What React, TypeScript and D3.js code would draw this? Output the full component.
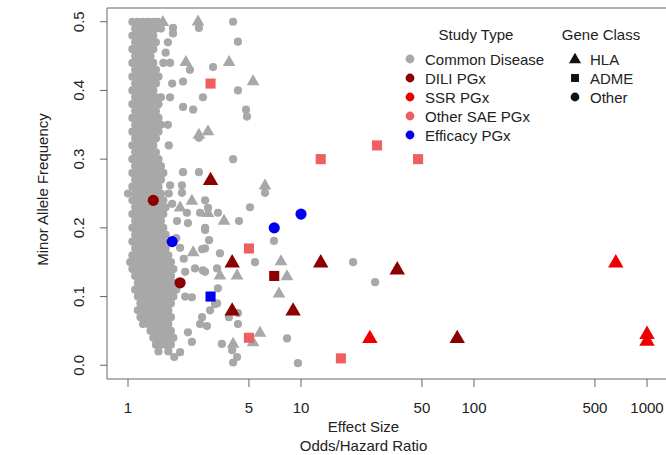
import React from 'react';
import * as d3 from 'd3';

// dense block of common disease hits, one row per allele frequency
const clusterRows: [number, number[]][] = [
  [0.50, [1.06, 1.14, 1.22, 1.31, 1.40, 1.48]],
  [0.49, [1.10, 1.18, 1.26, 1.35, 1.45, 1.55]],
  [0.48, [1.06, 1.14, 1.22, 1.31, 1.40]],
  [0.47, [1.10, 1.18, 1.26, 1.35, 1.45]],
  [0.46, [1.06, 1.14, 1.22, 1.31, 1.40]],
  [0.45, [1.10, 1.18, 1.26, 1.35]],
  [0.44, [1.06, 1.14, 1.22, 1.31, 1.40, 1.60]],
  [0.43, [1.10, 1.18, 1.26, 1.35, 1.45]],
  [0.42, [1.06, 1.14, 1.22, 1.31, 1.40, 1.50]],
  [0.41, [1.10, 1.18, 1.26, 1.35, 1.45]],
  [0.40, [1.06, 1.14, 1.22, 1.31, 1.40]],
  [0.39, [1.10, 1.18, 1.26, 1.35, 1.45, 1.55]],
  [0.38, [1.06, 1.14, 1.22, 1.31, 1.40, 1.50]],
  [0.37, [1.10, 1.18, 1.26, 1.35, 1.45]],
  [0.36, [1.06, 1.14, 1.22, 1.31, 1.40, 1.50]],
  [0.35, [1.10, 1.18, 1.26, 1.35, 1.45, 1.55]],
  [0.34, [1.06, 1.14, 1.22, 1.31, 1.40, 1.50]],
  [0.33, [1.10, 1.18, 1.26, 1.35, 1.45]],
  [0.32, [1.06, 1.14, 1.22, 1.31, 1.40]],
  [0.31, [1.10, 1.18, 1.26, 1.35, 1.45]],
  [0.30, [1.06, 1.14, 1.22, 1.31, 1.40, 1.50]],
  [0.29, [1.10, 1.18, 1.26, 1.35, 1.45, 1.55]],
  [0.28, [1.06, 1.14, 1.22, 1.31, 1.40, 1.50, 1.60]],
  [0.27, [1.10, 1.18, 1.26, 1.35, 1.45, 1.55]],
  [0.26, [1.06, 1.14, 1.22, 1.31, 1.40, 1.50]],
  [0.25, [1.00, 1.10, 1.18, 1.26, 1.35, 1.45, 1.55]],
  [0.24, [1.06, 1.14, 1.22, 1.31, 1.40, 1.50, 1.60]],
  [0.23, [1.10, 1.18, 1.26, 1.35, 1.45, 1.55, 1.65]],
  [0.22, [1.06, 1.14, 1.22, 1.31, 1.40, 1.50, 1.60]],
  [0.21, [1.10, 1.18, 1.26, 1.35, 1.45, 1.55]],
  [0.20, [1.06, 1.14, 1.22, 1.31, 1.40, 1.50, 1.60]],
  [0.19, [1.10, 1.18, 1.26, 1.35, 1.45, 1.55, 1.65]],
  [0.18, [1.06, 1.14, 1.22, 1.31, 1.40, 1.50, 1.60]],
  [0.17, [1.10, 1.18, 1.26, 1.35, 1.45, 1.55, 1.65]],
  [0.16, [1.06, 1.14, 1.22, 1.31, 1.40, 1.50, 1.60, 1.71]],
  [0.15, [1.03, 1.10, 1.18, 1.26, 1.35, 1.45, 1.55, 1.65, 1.77]],
  [0.14, [1.06, 1.14, 1.22, 1.31, 1.40, 1.50, 1.60, 1.71, 1.83]],
  [0.13, [1.10, 1.18, 1.26, 1.35, 1.45, 1.55, 1.65, 1.77]],
  [0.12, [1.14, 1.22, 1.31, 1.40, 1.50, 1.60, 1.71, 1.83]],
  [0.11, [1.10, 1.18, 1.26, 1.35, 1.45, 1.55, 1.65, 1.77, 1.90]],
  [0.10, [1.14, 1.22, 1.31, 1.40, 1.50, 1.60, 1.71, 1.83]],
  [0.09, [1.18, 1.26, 1.35, 1.45, 1.55, 1.65, 1.77]],
  [0.08, [1.14, 1.22, 1.31, 1.40, 1.50, 1.60, 1.71]],
  [0.07, [1.18, 1.26, 1.35, 1.45, 1.55, 1.65, 1.77]],
  [0.06, [1.22, 1.31, 1.40, 1.50, 1.60, 1.71]],
  [0.05, [1.35, 1.45, 1.55, 1.65, 1.77]],
  [0.04, [1.40, 1.50, 1.60, 1.71, 1.83]],
  [0.03, [1.45, 1.55, 1.65, 1.77]],
  [0.02, [1.50, 1.71]],
];

// common disease hits scattered outside the block: [OR, MAF, gene class]
const commonScatter: [number, number, string][] = [
  [1.59, 0.50, 'HLA'], [1.82, 0.491, 'Other'], [1.82, 0.483, 'Other'],
  [1.70, 0.47, 'Other'], [1.65, 0.455, 'Other'], [1.75, 0.44, 'Other'],
  [2.54, 0.501, 'HLA'], [2.57, 0.491, 'Other'], [4.05, 0.50, 'Other'],
  [4.32, 0.471, 'Other'], [2.16, 0.442, 'HLA'], [2.28, 0.43, 'Other'],
  [3.10, 0.434, 'Other'], [3.84, 0.442, 'HLA'], [5.28, 0.414, 'HLA'],
  [4.32, 0.40, 'Other'], [2.71, 0.39, 'Other'], [1.80, 0.41, 'Other'],
  [2.08, 0.413, 'Other'], [2.08, 0.376, 'Other'], [2.38, 0.372, 'Other'],
  [1.75, 0.39, 'Other'], [1.70, 0.35, 'Other'], [1.72, 0.32, 'Other'],
  [4.81, 0.372, 'Other'], [4.87, 0.362, 'Other'], [2.90, 0.341, 'HLA'],
  [2.57, 0.331, 'Other'], [2.57, 0.336, 'HLA'], [4.05, 0.30, 'Other'],
  [2.08, 0.281, 'Other'], [2.57, 0.281, 'Other'], [6.19, 0.262, 'HLA'],
  [6.19, 0.251, 'Other'], [2.05, 0.262, 'Other'], [2.05, 0.251, 'Other'],
  [1.75, 0.262, 'Other'], [1.72, 0.25, 'Other'], [1.80, 0.235, 'Other'],
  [2.34, 0.24, 'HLA'], [2.79, 0.24, 'Other'], [5.07, 0.23, 'Other'],
  [2.00, 0.23, 'HLA'], [2.19, 0.222, 'Other'], [2.61, 0.222, 'Other'],
  [3.31, 0.222, 'Other'], [2.90, 0.222, 'HLA'], [3.59, 0.211, 'HLA'],
  [4.38, 0.21, 'Other'], [1.92, 0.21, 'Other'], [2.22, 0.207, 'Other'],
  [2.79, 0.20, 'Other'], [2.79, 0.197, 'Other'], [2.94, 0.182, 'Other'],
  [2.79, 0.17, 'Other'], [2.90, 0.229, 'Other'], [6.98, 0.181, 'Other'],
  [2.00, 0.171, 'Other'], [2.38, 0.165, 'HLA'], [2.68, 0.169, 'Other'],
  [3.40, 0.163, 'Other'], [1.90, 0.185, 'Other'], [2.10, 0.155, 'Other'],
  [5.42, 0.15, 'Other'], [7.66, 0.152, 'HLA'], [3.40, 0.131, 'HLA'],
  [4.27, 0.131, 'HLA'], [8.30, 0.13, 'HLA'], [7.46, 0.105, 'HLA'],
  [3.27, 0.141, 'Other'], [2.71, 0.138, 'Other'], [2.14, 0.136, 'Other'],
  [2.44, 0.141, 'Other'], [2.79, 0.136, 'Other'], [3.31, 0.112, 'Other'],
  [2.14, 0.10, 'Other'], [2.34, 0.099, 'Other'], [3.18, 0.089, 'Other'],
  [2.98, 0.08, 'Other'], [3.27, 0.09, 'Other'], [4.32, 0.076, 'Other'],
  [3.83, 0.07, 'Other'], [4.32, 0.06, 'Other'], [2.68, 0.07, 'Other'],
  [2.86, 0.057, 'Other'], [2.61, 0.06, 'Other'], [5.79, 0.048, 'HLA'],
  [5.28, 0.034, 'HLA'], [8.30, 0.039, 'Other'], [3.49, 0.031, 'Other'],
  [4.05, 0.032, 'HLA'], [4.00, 0.022, 'Other'], [4.27, 0.012, 'Other'],
  [4.05, 0.004, 'Other'], [9.60, 0.003, 'Other'], [2.22, 0.048, 'Other'],
  [2.34, 0.034, 'Other'], [2.00, 0.019, 'Other'], [1.85, 0.012, 'Other'],
  [20.0, 0.15, 'Other'], [26.8, 0.121, 'Other'],
];

// pharmacogenomic hits: [OR, MAF, gene class]
const diliPGx: [number, number, string][] = [
  [1.4, 0.24, 'Other'], [2.0, 0.12, 'Other'], [3.0, 0.27, 'HLA'],
  [4.0, 0.15, 'HLA'], [4.0, 0.08, 'HLA'], [7.0, 0.13, 'ADME'],
  [9.0, 0.08, 'HLA'], [13, 0.15, 'HLA'], [36, 0.14, 'HLA'], [80, 0.04, 'HLA'],
];
const ssrPGx: [number, number, string][] = [
  [25, 0.04, 'HLA'], [660, 0.15, 'HLA'], [1000, 0.046, 'HLA'], [1000, 0.036, 'HLA'],
];
const otherSaePGx: [number, number, string][] = [
  [3.0, 0.41, 'ADME'], [13, 0.30, 'ADME'], [27.5, 0.32, 'ADME'], [47.5, 0.30, 'ADME'],
  [5.0, 0.17, 'ADME'], [5.0, 0.04, 'ADME'], [17, 0.01, 'ADME'],
];
const efficacyPGx: [number, number, string][] = [
  [1.8, 0.18, 'Other'], [7.0, 0.20, 'Other'], [10, 0.22, 'Other'], [3.0, 0.10, 'ADME'],
];

const studyTypes = ['Common Disease', 'DILI PGx', 'SSR PGx', 'Other SAE PGx', 'Efficacy PGx'];
const studyColors = ['#a8a8a8', '#8b0000', '#ee0000', '#ef5f60', '#0000ee'];
const geneClasses = ['HLA', 'ADME', 'Other'];

const xTicks = [1, 5, 10, 50, 100, 500, 1000];
const yTicks = [0, 0.1, 0.2, 0.3, 0.4, 0.5];

const width = 666;
const height = 455;
const plot = { left: 107, right: 670, top: 8, bottom: 379 };
const font = '"Liberation Sans", Arial, sans-serif';
const ink = '#222';
const frame = '#666';

const Mark = ({ x, y, shape, color, r }: { x: number; y: number; shape: string; color: string; r: number }) => {
  if (shape === 'HLA') {
    const tri = d3.symbol(d3.symbolTriangle, r * r * 3.3)();
    return <path d={tri as string} transform={`translate(${x},${y + r * 0.15})`} fill={color} />;
  }
  if (shape === 'ADME') {
    const s = r * 1.8;
    return <rect x={x - s / 2} y={y - s / 2} width={s} height={s} fill={color} />;
  }
  return <circle cx={x} cy={y} r={r} fill={color} />;
};

export default function App() {
  const xScale = d3.scaleLog().domain([0.756, 1358]).range([plot.left, plot.right]);
  const yScale = d3.scaleLinear().domain([-0.02, 0.52]).range([plot.bottom, plot.top]);

  const cluster = clusterRows.flatMap(([maf, ors]) => ors.map(or => [or, maf] as [number, number]));
  const pgx: [[number, number, string][], string][] = [
    [diliPGx, studyColors[1]],
    [ssrPGx, studyColors[2]],
    [otherSaePGx, studyColors[3]],
    [efficacyPGx, studyColors[4]],
  ];

  const legX = 410;
  const legY = 59;
  const legStep = 19;
  const geneX = 575;

  return (
    <svg width={width} height={height} style={{ position: 'absolute', left: 0, top: 0, background: '#fff' }}
      fontFamily={font} fontSize={15}>
      {/* points */}
      <g>
        {cluster.map(([or, maf], i) => (
          <circle key={`c${i}`} cx={xScale(or)} cy={yScale(maf)} r={4.1} fill={studyColors[0]} />
        ))}
        {commonScatter.map(([or, maf, g], i) => (
          <Mark key={`s${i}`} x={xScale(or)} y={yScale(maf)} shape={g} color={studyColors[0]} r={g === 'HLA' ? 4.6 : 4.1} />
        ))}
        {pgx.map(([rows, color], k) => rows.map(([or, maf, g], i) => (
          <Mark key={`p${k}-${i}`} x={xScale(or)} y={yScale(maf)} shape={g} color={color} r={5.6} />
        )))}
      </g>

      {/* frame */}
      <line x1={plot.left} x2={plot.right} y1={plot.top} y2={plot.top} stroke={frame} />
      <line x1={plot.left} x2={plot.right} y1={plot.bottom} y2={plot.bottom} stroke={frame} />
      <line x1={plot.left} x2={plot.left} y1={plot.top} y2={plot.bottom} stroke={frame} />

      {/* x axis */}
      <g>
        {xTicks.map(t => (
          <g key={t} transform={`translate(${xScale(t)},0)`}>
            <line y1={plot.bottom} y2={plot.bottom + 8} stroke={frame} />
            <text y={413} textAnchor="middle" fill={ink}>{t}</text>
          </g>
        ))}
        <text x={(xScale(1) + xScale(1000)) / 2 - 24} y={432} textAnchor="middle" fill={ink}>Effect Size</text>
        <text x={(xScale(1) + xScale(1000)) / 2 - 24} y={451} textAnchor="middle" fill={ink}>Odds/Hazard Ratio</text>
      </g>

      {/* y axis */}
      <g>
        {yTicks.map(t => (
          <g key={t} transform={`translate(0,${yScale(t)})`}>
            <line x1={plot.left - 7} x2={plot.left} stroke={frame} />
            <text transform="translate(84,0) rotate(-90)" textAnchor="middle" fill={ink}>{t.toFixed(1)}</text>
          </g>
        ))}
        <text transform={`translate(48,${(plot.top + plot.bottom) / 2 - 4}) rotate(-90)`} textAnchor="middle" fill={ink}>
          Minor Allele Frequency
        </text>
      </g>

      {/* legends */}
      <g>
        <text x={476} y={40} textAnchor="middle" fill={ink}>Study Type</text>
        {studyTypes.map((s, i) => (
          <g key={s} transform={`translate(0,${legY + i * legStep})`}>
            <circle cx={legX} cy={0} r={4.4} fill={studyColors[i]} />
            <text x={legX + 15} y={5.5} fill={ink}>{s}</text>
          </g>
        ))}
        <text x={601} y={40} textAnchor="middle" fill={ink}>Gene Class</text>
        {geneClasses.map((g, i) => (
          <g key={g}>
            <Mark x={geneX} y={legY + i * legStep} shape={g} color="#111" r={4.4} />
            <text x={geneX + 15} y={legY + i * legStep + 5.5} fill={ink}>{g}</text>
          </g>
        ))}
      </g>
    </svg>
  );
}
